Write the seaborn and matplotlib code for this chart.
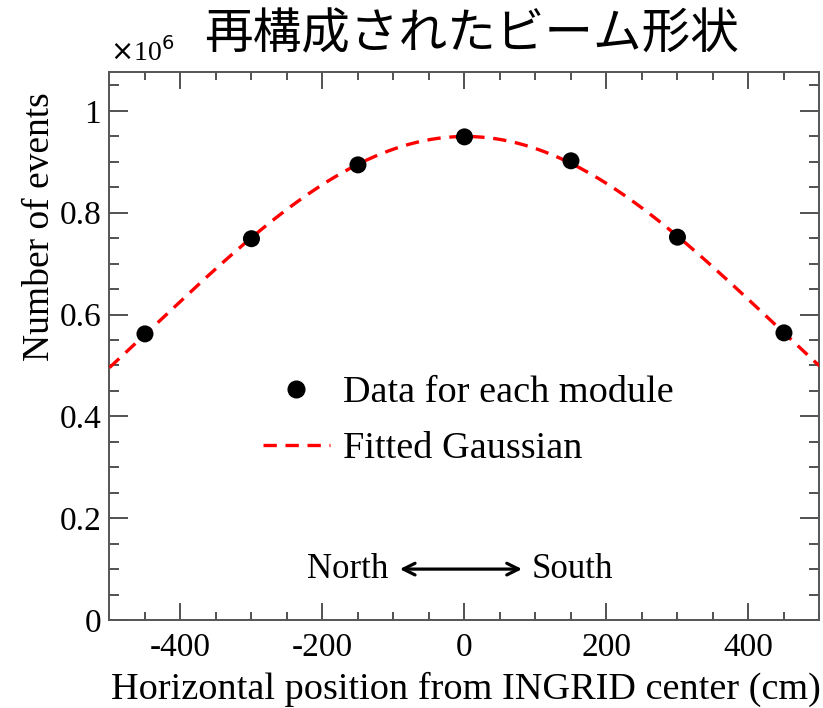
import numpy as np
import pandas as pd
import matplotlib
matplotlib.use("Agg")
import matplotlib.pyplot as plt
from matplotlib.ticker import MultipleLocator, FuncFormatter
from matplotlib.lines import Line2D
import seaborn as sns

# Module positions (cm) and event counts (x10^6)
positions = [-450, -300, -150, 0, 150, 300, 450]
events = [0.562, 0.749, 0.894, 0.949, 0.902, 0.752, 0.564]

title = "再構成されたビーム形状"
xlabel = "Horizontal position from INGRID center (cm)"
ylabel = "Number of events"
legend_labels = ["Data for each module", "Fitted Gaussian"]

sns.set_theme(style="ticks")
plt.rcParams["font.family"] = ["Liberation Serif", "DejaVu Serif"]
plt.rcParams["text.color"] = "black"
plt.rcParams["legend.labelcolor"] = "black"

df = pd.DataFrame({"x": positions, "y": events})

# Gaussian fit: log(y) is quadratic in x
c2, c1, c0 = np.polyfit(df["x"], np.log(df["y"]), 2)
mu = -c1 / (2 * c2)
sigma = np.sqrt(-1 / (2 * c2))
amp = np.exp(c0 - c1 ** 2 / (4 * c2))
xs = np.linspace(-500, 500, 400)
fit = pd.DataFrame({"x": xs, "y": amp * np.exp(-(xs - mu) ** 2 / (2 * sigma ** 2))})

fig = plt.figure(figsize=(8.23, 7.08), dpi=100)
ax = fig.add_axes([0.133, 0.1243, 0.8627, 0.7744])

dash = (0, (4, 2.6))
sns.lineplot(data=fit, x="x", y="y", ax=ax, color="#ff0000", lw=2.4,
             linestyle=dash, zorder=3)
sns.scatterplot(data=df, x="x", y="y", ax=ax, color="black", s=150,
                edgecolor="none", zorder=4)

ax.set_xlim(-500, 500)
ax.set_ylim(0, 1.077)
ax.set_xlabel("")
ax.set_ylabel("")

ax.xaxis.set_major_locator(MultipleLocator(200))
ax.xaxis.set_minor_locator(MultipleLocator(50))
ax.yaxis.set_major_locator(MultipleLocator(0.2))
ax.yaxis.set_minor_locator(MultipleLocator(0.05))
ax.yaxis.set_major_formatter(FuncFormatter(lambda v, p: f"{v:g}"))
ax.xaxis.set_major_formatter(FuncFormatter(lambda v, p: f"{v:g}"))

for s in ax.spines.values():
    s.set_color("#555555")
    s.set_linewidth(1.4)

ax.tick_params(axis="both", which="both", direction="in", top=True, right=True,
               color="#222222", width=1.1, labelsize=24, labelcolor="black")
ax.tick_params(axis="x", which="major", length=12, pad=9)
ax.tick_params(axis="x", which="minor", length=6)
ax.tick_params(axis="y", which="major", length=14, pad=6)
ax.tick_params(axis="y", which="minor", length=7)

fig.text(0.1335, 0.905, r"$\times$10$^{6}$", fontsize=20, ha="left", va="bottom")

fig.text(821 / 823, 1 - 689 / 708, xlabel, fontsize=27.5, ha="right", va="center")
fig.text(40 / 823, 1 - 92 / 708, ylabel, fontsize=27, ha="center", va="top",
         rotation=90)

fig.text(471 / 823, 1 - 35 / 708, title, fontsize=35, ha="center", va="center",
         family=["Noto Sans CJK JP", "DejaVu Sans"])

# Legend
handles = [
    Line2D([], [], marker="o", color="black", linestyle="none", markersize=12),
    Line2D([], [], color="#ff0000", lw=2.4, linestyle=dash),
]
ax.legend(handles, legend_labels, loc="center left",
          bbox_to_anchor=(0.216, 0.363), frameon=False, fontsize=27.5,
          borderpad=0, borderaxespad=0,
          handlelength=1.75, handletextpad=0.35, labelspacing=0.55)

# Direction indicator
ax.text(-107, 0.1, "North", fontsize=25, ha="right", va="center")
ax.text(95, 0.1, "South", fontsize=25, ha="left", va="center")
ax.annotate("", xy=(-95, 0.1), xytext=(85, 0.1),
            arrowprops=dict(arrowstyle="<->,head_length=0.7,head_width=0.35",
                            color="black", lw=2.3))

fig.savefig("out.png", dpi=100)
